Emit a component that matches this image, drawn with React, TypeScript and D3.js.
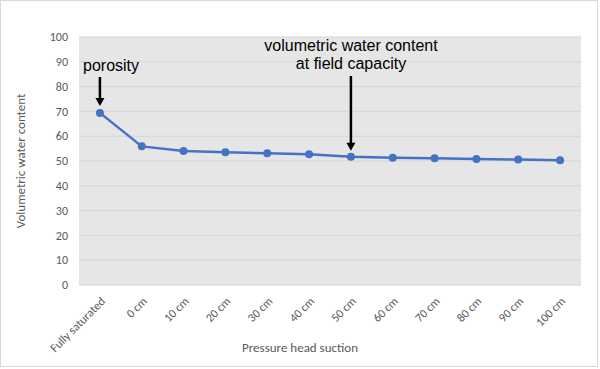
import { useEffect, useRef } from 'react'
import * as d3 from 'd3'

const categories = ['Fully saturated', '0 cm', '10 cm', '20 cm', '30 cm', '40 cm', '50 cm', '60 cm', '70 cm', '80 cm', '90 cm', '100 cm']
const waterContent = [69.4, 55.9, 54.0, 53.5, 53.1, 52.7, 51.7, 51.3, 51.1, 50.8, 50.6, 50.3]
const yTicks = [0, 10, 20, 30, 40, 50, 60, 70, 80, 90, 100]

function App() {
  const svgRef = useRef<SVGSVGElement>(null)

  useEffect(() => {
    const width = 600
    const height = 369
    const margin = { top: 37, right: 19, bottom: 84, left: 79 }
    const labelFont = 'Carlito, Lato, "Open Sans", sans-serif'
    const noteFont = '"Liberation Sans", Arial, sans-serif'

    const svg = d3.select(svgRef.current)
    svg.selectAll('*').remove()
    svg.attr('width', width).attr('height', height)
      .style('font-family', labelFont)

    // chart border
    svg.append('rect')
      .attr('x', 0.5).attr('y', 0.5)
      .attr('width', width - 3).attr('height', height - 3)
      .attr('fill', '#fff').attr('stroke', '#d9d9d9')

    const x = d3.scaleBand()
      .domain(categories)
      .range([margin.left, width - margin.right])

    const y = d3.scaleLinear()
      .domain([0, 100])
      .range([height - margin.bottom, margin.top])

    svg.append('rect')
      .attr('x', margin.left).attr('y', margin.top)
      .attr('width', width - margin.left - margin.right)
      .attr('height', height - margin.top - margin.bottom)
      .attr('fill', '#e6e6e6')

    // grid
    svg.append('g')
      .selectAll('line')
      .data(yTicks)
      .join('line')
      .attr('x1', margin.left).attr('x2', width - margin.right)
      .attr('y1', d => y(d)).attr('y2', d => y(d))
      .attr('stroke', '#d6d6d6').attr('stroke-width', 1)

    // y labels
    svg.append('g')
      .selectAll('text')
      .data(yTicks)
      .join('text')
      .attr('x', margin.left - 11)
      .attr('y', d => y(d))
      .attr('dy', '0.35em')
      .attr('text-anchor', 'end')
      .attr('fill', '#595959')
      .attr('font-size', 12)
      .text(d => d)

    // x labels
    svg.append('g')
      .selectAll('text')
      .data(categories)
      .join('text')
      .attr('transform', d => `translate(${x(d)! + x.bandwidth() / 2 + 3},${height - margin.bottom + 14}) rotate(-45)`)
      .attr('text-anchor', 'end')
      .attr('dy', '0.35em')
      .attr('fill', '#595959')
      .attr('font-size', 12)
      .text(d => d)

    const cx = (i: number) => x(categories[i])! + x.bandwidth() / 2

    const line = d3.line<number>()
      .x((_, i) => cx(i))
      .y(d => y(d))

    svg.append('path')
      .datum(waterContent)
      .attr('d', line)
      .attr('fill', 'none')
      .attr('stroke', '#4472c4')
      .attr('stroke-width', 2.5)
      .attr('stroke-linejoin', 'round')

    svg.append('g')
      .selectAll('circle')
      .data(waterContent)
      .join('circle')
      .attr('cx', (_, i) => cx(i))
      .attr('cy', d => y(d))
      .attr('r', 4)
      .attr('fill', '#4472c4')

    // axis titles
    svg.append('text')
      .attr('transform', `translate(25,${(margin.top + height - margin.bottom) / 2}) rotate(-90)`)
      .attr('text-anchor', 'middle')
      .attr('fill', '#595959')
      .attr('font-size', 13)
      .text('Volumetric water content')

    svg.append('text')
      .attr('x', 300).attr('y', 352)
      .attr('text-anchor', 'middle')
      .attr('fill', '#595959')
      .attr('font-size', 13)
      .text('Pressure head suction')

    // annotations
    const arrow = (xPos: number, y1: number, y2: number) => {
      svg.append('line')
        .attr('x1', xPos).attr('x2', xPos)
        .attr('y1', y1).attr('y2', y2 - 6)
        .attr('stroke', '#000').attr('stroke-width', 2.5)
      svg.append('path')
        .attr('d', `M${xPos - 4.5},${y2 - 8} L${xPos + 4.5},${y2 - 8} L${xPos},${y2} Z`)
        .attr('fill', '#000')
    }

    svg.append('text')
      .attr('x', 83).attr('y', 71)
      .attr('fill', '#000')
      .attr('font-family', noteFont)
      .attr('font-size', 16)
      .text('porosity')
    arrow(cx(0), 77, y(waterContent[0]) - 7)

    const fc = svg.append('text')
      .attr('text-anchor', 'middle')
      .attr('fill', '#000')
      .attr('font-family', noteFont)
      .attr('font-size', 16)
    fc.append('tspan').attr('x', 351).attr('y', 51).text('volumetric water content')
    fc.append('tspan').attr('x', 351).attr('y', 69).text('at field capacity')
    arrow(cx(6), 76, y(waterContent[6]) - 6)
  }, [])

  return <svg ref={svgRef} style={{ display: 'block', position: 'absolute', left: 0, top: 0 }}></svg>
}

export default App
